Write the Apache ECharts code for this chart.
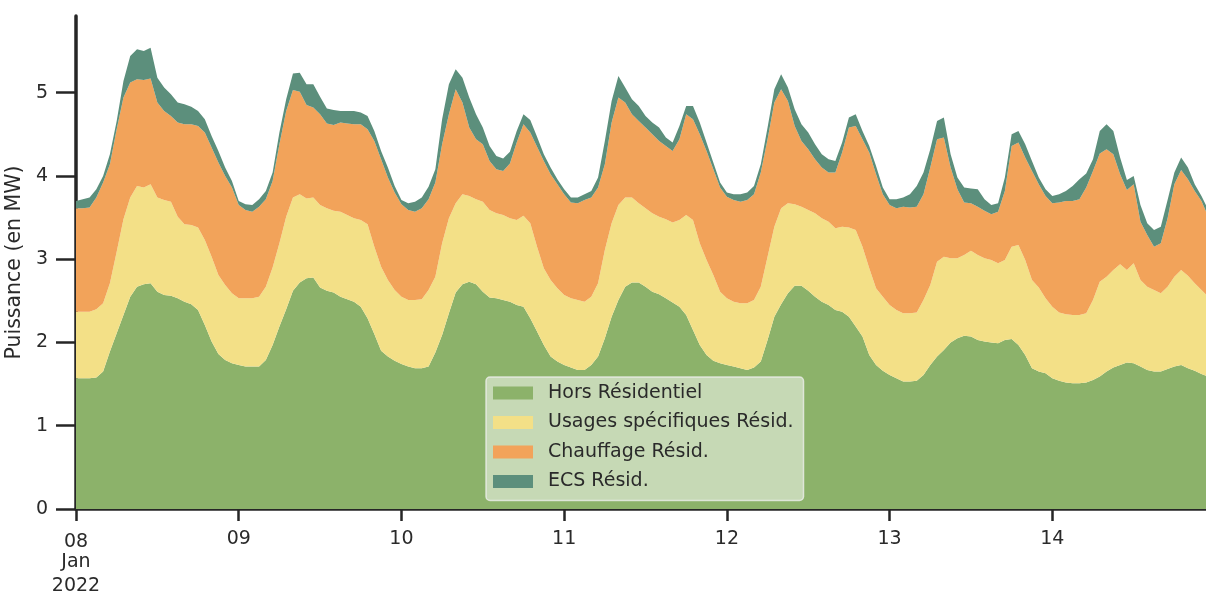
<!DOCTYPE html>
<html>
<head>
<meta charset="utf-8">
<script src="https://cdn.jsdelivr.net/npm/echarts@6/dist/echarts.min.js"></script>
<style>
  html, body { margin: 0; padding: 0; background: #fff; }
  #chart { width: 1206px; height: 595px; }
</style>
</head>
<body>
<div id="chart"></div>
<script>
// hourly values, 8 Jan 2022 00:00 -> 14 Jan 2022 23:00 (MW)
var hors = [
  1.57,1.57,1.57,1.58,1.65,1.89,2.11,2.33,2.55,2.67,2.70,2.71,2.61,2.57,2.56,2.53,2.49,2.46,2.39,2.21,2.01,1.86,1.79,1.75,
  1.73,1.71,1.71,1.71,1.79,1.97,2.19,2.40,2.62,2.72,2.77,2.78,2.66,2.62,2.60,2.55,2.52,2.49,2.43,2.29,2.10,1.90,1.83,1.78,
  1.74,1.71,1.69,1.69,1.71,1.88,2.09,2.35,2.60,2.70,2.73,2.70,2.61,2.54,2.53,2.51,2.49,2.45,2.43,2.29,2.13,1.97,1.83,1.77,
  1.73,1.70,1.67,1.67,1.73,1.83,2.05,2.31,2.51,2.67,2.72,2.72,2.67,2.61,2.58,2.53,2.48,2.43,2.33,2.15,1.97,1.85,1.78,1.75,
  1.73,1.71,1.69,1.67,1.70,1.77,2.03,2.31,2.46,2.59,2.68,2.68,2.62,2.55,2.49,2.45,2.39,2.37,2.31,2.19,2.07,1.85,1.73,1.66,
  1.61,1.57,1.53,1.53,1.54,1.61,1.73,1.83,1.91,2.00,2.05,2.08,2.07,2.03,2.01,2.00,1.99,2.03,2.04,1.97,1.85,1.69,1.65,1.63,
  1.57,1.54,1.52,1.51,1.51,1.52,1.55,1.59,1.65,1.70,1.73,1.76,1.75,1.71,1.67,1.65,1.65,1.68,1.71,1.73,1.69,1.66,1.62,1.59
];
var usages = [
  0.80,0.80,0.80,0.82,0.82,0.82,0.98,1.15,1.19,1.21,1.16,1.19,1.13,1.14,1.13,0.98,0.93,0.95,0.99,1.02,1.02,0.95,0.90,0.84,
  0.80,0.82,0.82,0.84,0.88,0.93,1.00,1.11,1.12,1.06,0.96,0.96,0.99,0.99,0.98,1.02,1.01,1.00,1.04,1.13,1.05,1.01,0.92,0.85,
  0.81,0.80,0.82,0.83,0.92,0.91,1.10,1.14,1.07,1.08,1.03,1.02,1.08,1.05,1.02,1.02,1.00,1.02,1.09,1.14,1.02,0.92,0.92,0.88,
  0.84,0.83,0.84,0.82,0.82,0.88,1.06,1.12,1.14,1.07,1.02,0.95,0.94,0.94,0.93,0.95,0.96,1.04,1.20,1.32,1.22,1.14,1.03,0.86,
  0.80,0.78,0.78,0.80,0.81,0.90,1.00,1.08,1.15,1.08,0.98,0.95,0.97,1.00,1.00,1.00,0.98,1.02,1.07,1.16,1.08,1.04,0.92,0.89,
  0.84,0.82,0.82,0.82,0.82,0.90,0.96,1.14,1.12,1.01,0.96,0.97,1.03,1.02,1.00,0.99,0.96,0.96,1.11,1.20,1.14,1.06,1.01,0.90,
  0.86,0.82,0.82,0.82,0.82,0.83,0.96,1.14,1.14,1.17,1.21,1.11,1.20,1.04,1.00,0.98,0.94,0.99,1.08,1.14,1.11,1.05,1.01,0.96
];
var chauffage = [
  1.24,1.24,1.25,1.34,1.45,1.43,1.47,1.46,1.38,1.28,1.29,1.27,1.14,1.07,1.03,1.13,1.20,1.21,1.22,1.29,1.31,1.35,1.31,1.27,
  1.12,1.06,1.04,1.08,1.05,1.04,1.19,1.27,1.29,1.23,1.12,1.08,1.09,1.02,1.03,1.07,1.10,1.13,1.15,1.14,1.27,1.29,1.23,1.17,
  1.11,1.08,1.06,1.09,1.09,1.13,1.19,1.25,1.37,1.10,0.82,0.72,0.69,0.59,0.53,0.53,0.66,0.93,1.10,1.09,1.20,1.29,1.27,1.25,
  1.21,1.15,1.16,1.22,1.19,1.15,1.03,1.21,1.29,1.14,1.00,0.99,0.97,0.95,0.91,0.88,0.86,0.97,1.21,1.21,1.31,1.31,1.27,1.25,
  1.22,1.22,1.22,1.24,1.27,1.37,1.41,1.49,1.43,1.23,0.94,0.79,0.73,0.65,0.61,0.59,0.67,0.89,1.20,1.25,1.29,1.39,1.37,1.23,
  1.20,1.22,1.28,1.27,1.27,1.27,1.41,1.47,1.43,1.09,0.83,0.63,0.57,0.58,0.57,0.55,0.62,0.83,1.21,1.23,1.23,1.31,1.24,1.23,
  1.24,1.32,1.36,1.37,1.39,1.51,1.55,1.54,1.53,1.39,1.08,0.96,0.95,0.70,0.62,0.52,0.60,0.82,1.11,1.20,1.16,1.11,1.07,0.96
];
var ecs = [
  0.09,0.11,0.12,0.10,0.08,0.12,0.10,0.20,0.32,0.36,0.35,0.37,0.30,0.28,0.26,0.24,0.24,0.21,0.18,0.16,0.14,0.14,0.10,0.08,
  0.05,0.07,0.08,0.09,0.10,0.10,0.14,0.14,0.20,0.23,0.25,0.28,0.21,0.18,0.18,0.14,0.15,0.16,0.14,0.16,0.12,0.10,0.12,0.08,
  0.05,0.08,0.12,0.13,0.15,0.16,0.30,0.36,0.24,0.30,0.36,0.30,0.20,0.18,0.16,0.15,0.14,0.14,0.12,0.15,0.12,0.08,0.08,0.06,
  0.06,0.06,0.07,0.07,0.08,0.12,0.28,0.26,0.26,0.18,0.18,0.18,0.14,0.14,0.16,0.10,0.10,0.16,0.10,0.16,0.14,0.10,0.08,0.06,
  0.05,0.07,0.09,0.09,0.10,0.10,0.14,0.16,0.18,0.16,0.20,0.20,0.20,0.18,0.16,0.16,0.14,0.12,0.12,0.14,0.10,0.08,0.10,0.08,
  0.07,0.11,0.11,0.16,0.25,0.26,0.22,0.22,0.24,0.16,0.14,0.18,0.18,0.21,0.14,0.11,0.10,0.16,0.14,0.14,0.16,0.12,0.08,0.08,
  0.09,0.10,0.12,0.18,0.24,0.17,0.14,0.27,0.30,0.28,0.20,0.12,0.10,0.20,0.14,0.20,0.20,0.22,0.14,0.15,0.14,0.08,0.06,0.08
];
var seriesNames = ['Hors Résidentiel', 'Usages spécifiques Résid.', 'Chauffage Résid.', 'ECS Résid.'];
var seriesColors = ['#8cb26a', '#f3e087', '#f2a35a', '#5c8f7c'];
var yTicks = [0, 1, 2, 3, 4, 5];

var DAY = 24 * 3600 * 1000;
var t0 = new Date(2022, 0, 8, 0, 0).getTime();
var tEnd = new Date(2022, 0, 14, 22, 40).getTime();

function toPairs(arr) {
  return arr.map(function (v, i) { return [t0 + i * 3600 * 1000, v]; });
}

var font = 'DejaVu Sans';
var ink = '#2a2a2a';
var fs = 19;

var series = [hors, usages, chauffage, ecs].map(function (arr, k) {
  return {
    name: seriesNames[k],
    type: 'line',
    stack: 'total',
    data: toPairs(arr),
    symbol: 'none',
    showSymbol: false,
    smooth: false,
    lineStyle: { width: 0 },
    itemStyle: { color: seriesColors[k] },
    areaStyle: { color: seriesColors[k], opacity: 1 },
    emphasis: { disabled: true },
    z: 2
  };
});

var chart = echarts.init(document.getElementById('chart'), null, { renderer: 'canvas' });
chart.setOption({
  animation: false,
  backgroundColor: '#fff',
  grid: { left: 76, right: 0, top: 16, bottom: 86, outerBoundsMode: 'none' },
  legend: {
    orient: 'vertical',
    left: 486,
    top: 377,
    data: seriesNames,
    icon: 'rect',
    itemWidth: 40,
    itemHeight: 13,
    itemGap: 9.5,
    padding: [6, 10, 9, 7],
    backgroundColor: 'rgba(255,255,255,0.5)',
    borderColor: 'rgba(240,240,240,0.75)',
    borderWidth: 1.5,
    borderRadius: 4,
    textStyle: { fontFamily: font, fontSize: fs, color: ink, lineHeight: 20, padding: [0, 0, 0, 10] }
  },
  xAxis: {
    type: 'time',
    min: t0,
    max: tEnd,
    minInterval: DAY,
    maxInterval: DAY,
    splitLine: { show: false },
    axisLine: { show: true, onZero: false, lineStyle: { color: '#262626', width: 3.5 } },
    axisTick: { show: true, length: 12, lineStyle: { color: '#262626', width: 2.5 } },
    axisLabel: {
      margin: 19,
      fontFamily: font,
      fontSize: fs,
      color: ink,
      lineHeight: 22,
      showMaxLabel: false,
      formatter: function (val) {
        var d = new Date(val);
        var dd = ('0' + d.getDate()).slice(-2);
        if (val === t0) return '{m|' + dd + '}\n{d|Jan}\n{d|2022}';
        return dd;
      },
      rich: {
        m: { fontFamily: font, fontSize: fs, color: ink, lineHeight: 22, padding: [6, 0, 0, 0] },
        d: { fontFamily: font, fontSize: fs, color: ink, lineHeight: 24 }
      }
    }
  },
  yAxis: {
    type: 'value',
    min: 0,
    max: 5.92,
    interval: 1,
    name: 'Puissance (en MW)',
    nameLocation: 'middle',
    nameGap: 46,
    nameTextStyle: { fontFamily: font, fontSize: 20.5, color: ink },
    splitLine: { show: false },
    axisLine: { show: true, lineStyle: { color: '#262626', width: 3.5 } },
    axisTick: { show: true, length: 20, lineStyle: { color: '#262626', width: 2.5 } },
    axisLabel: {
      margin: 28,
      fontFamily: font,
      fontSize: fs,
      color: ink,
      showMaxLabel: false,
      formatter: function (v) { return yTicks.indexOf(v) >= 0 ? String(v) : ''; }
    }
  },
  series: series
});
</script>
</body>
</html>
